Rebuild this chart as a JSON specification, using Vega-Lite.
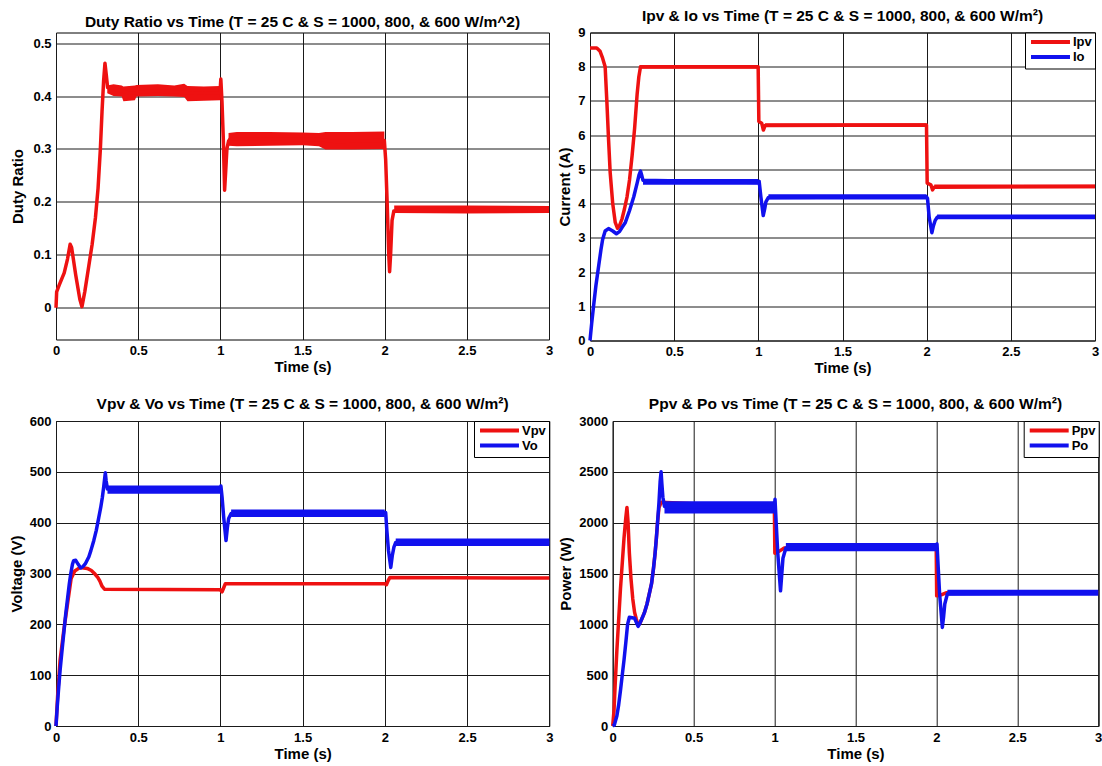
{
  "$schema": "https://vega.github.io/schema/vega-lite/v6.json",
  "padding": {"left": 8, "top": 7.5, "right": 0, "bottom": 0},
  "background": "white",
  "datasets": {
    "duty": [
      {"t":0,"v":0},{"t":0.004,"v":0.03},{"t":0.02,"v":0.043},{"t":0.05,"v":0.066},{"t":0.07,"v":0.092},{"t":0.086,"v":0.12},{"t":0.095,"v":0.114},{"t":0.12,"v":0.062},{"t":0.145,"v":0.016},{"t":0.158,"v":0.002},{"t":0.175,"v":0.03},{"t":0.2,"v":0.08},{"t":0.22,"v":0.12},{"t":0.24,"v":0.17},{"t":0.256,"v":0.226},{"t":0.27,"v":0.3},{"t":0.28,"v":0.37},{"t":0.29,"v":0.43},{"t":0.298,"v":0.462},{"t":0.306,"v":0.44},{"t":0.314,"v":0.416},{"t":0.4,"v":0.41},{"t":0.45,"v":0.405},{"t":0.6,"v":0.41},{"t":0.85,"v":0.405},{"t":0.998,"v":0.406},{"t":1.003,"v":0.432},{"t":1.01,"v":0.39},{"t":1.018,"v":0.32},{"t":1.026,"v":0.222},{"t":1.033,"v":0.26},{"t":1.04,"v":0.3},{"t":1.05,"v":0.315},{"t":1.06,"v":0.319},{"t":1.6,"v":0.318},{"t":1.7,"v":0.314},{"t":1.998,"v":0.316},{"t":2.006,"v":0.28},{"t":2.015,"v":0.2},{"t":2.025,"v":0.1},{"t":2.03,"v":0.068},{"t":2.036,"v":0.1},{"t":2.045,"v":0.165},{"t":2.056,"v":0.183},{"t":3,"v":0.186}
    ],
    "dutyBand": [
      {"g":1,"t":0.312,"lo":0.405,"hi":0.42},{"g":1,"t":0.35,"lo":0.4,"hi":0.422},{"g":1,"t":0.4,"lo":0.399,"hi":0.42},{"g":1,"t":0.41,"lo":0.39,"hi":0.418},{"g":1,"t":0.48,"lo":0.392,"hi":0.42},{"g":1,"t":0.49,"lo":0.399,"hi":0.421},{"g":1,"t":0.62,"lo":0.4,"hi":0.422},{"g":1,"t":0.72,"lo":0.399,"hi":0.42},{"g":1,"t":0.78,"lo":0.398,"hi":0.423},{"g":1,"t":0.8,"lo":0.39,"hi":0.419},{"g":1,"t":0.9,"lo":0.391,"hi":0.418},{"g":1,"t":0.998,"lo":0.392,"hi":0.419},
      {"g":2,"t":1.05,"lo":0.306,"hi":0.33},{"g":2,"t":1.1,"lo":0.305,"hi":0.332},{"g":2,"t":1.3,"lo":0.306,"hi":0.332},{"g":2,"t":1.5,"lo":0.307,"hi":0.331},{"g":2,"t":1.6,"lo":0.305,"hi":0.33},{"g":2,"t":1.64,"lo":0.299,"hi":0.332},{"g":2,"t":1.8,"lo":0.299,"hi":0.332},{"g":2,"t":1.998,"lo":0.3,"hi":0.333},
      {"g":3,"t":2.058,"lo":0.179,"hi":0.193},{"g":3,"t":2.5,"lo":0.178,"hi":0.193},{"g":3,"t":3,"lo":0.179,"hi":0.192}
    ],
    "cur": [
      {"s":"Ipv","t":0,"v":8.55},{"s":"Ipv","t":0.04,"v":8.55},{"s":"Ipv","t":0.06,"v":8.45},{"s":"Ipv","t":0.075,"v":8.25},{"s":"Ipv","t":0.09,"v":8.0},{"s":"Ipv","t":0.1,"v":7.0},{"s":"Ipv","t":0.11,"v":5.9},{"s":"Ipv","t":0.12,"v":4.9},{"s":"Ipv","t":0.135,"v":4.0},{"s":"Ipv","t":0.15,"v":3.45},{"s":"Ipv","t":0.163,"v":3.28},{"s":"Ipv","t":0.175,"v":3.35},{"s":"Ipv","t":0.19,"v":3.55},{"s":"Ipv","t":0.205,"v":3.85},{"s":"Ipv","t":0.22,"v":4.2},{"s":"Ipv","t":0.235,"v":4.7},{"s":"Ipv","t":0.25,"v":5.4},{"s":"Ipv","t":0.265,"v":6.2},{"s":"Ipv","t":0.28,"v":7.2},{"s":"Ipv","t":0.29,"v":7.7},{"s":"Ipv","t":0.3,"v":8.0},{"s":"Ipv","t":0.999,"v":8.0},{"s":"Ipv","t":1.003,"v":6.4},{"s":"Ipv","t":1.02,"v":6.35},{"s":"Ipv","t":1.03,"v":6.15},{"s":"Ipv","t":1.04,"v":6.28},{"s":"Ipv","t":1.999,"v":6.3},{"s":"Ipv","t":2.003,"v":4.6},{"s":"Ipv","t":2.025,"v":4.55},{"s":"Ipv","t":2.035,"v":4.4},{"s":"Ipv","t":2.045,"v":4.48},{"s":"Ipv","t":3,"v":4.5},
      {"s":"Io","t":0,"v":0},{"s":"Io","t":0.01,"v":0.5},{"s":"Io","t":0.021,"v":1.0},{"s":"Io","t":0.035,"v":1.6},{"s":"Io","t":0.052,"v":2.2},{"s":"Io","t":0.065,"v":2.65},{"s":"Io","t":0.075,"v":2.95},{"s":"Io","t":0.09,"v":3.2},{"s":"Io","t":0.11,"v":3.27},{"s":"Io","t":0.135,"v":3.2},{"s":"Io","t":0.157,"v":3.12},{"s":"Io","t":0.175,"v":3.18},{"s":"Io","t":0.19,"v":3.3},{"s":"Io","t":0.21,"v":3.45},{"s":"Io","t":0.235,"v":3.8},{"s":"Io","t":0.26,"v":4.2},{"s":"Io","t":0.28,"v":4.6},{"s":"Io","t":0.292,"v":4.85},{"s":"Io","t":0.3,"v":4.95},{"s":"Io","t":0.306,"v":4.85},{"s":"Io","t":0.315,"v":4.68},{"s":"Io","t":0.999,"v":4.62},{"s":"Io","t":1.005,"v":4.65},{"s":"Io","t":1.015,"v":4.2},{"s":"Io","t":1.029,"v":3.65},{"s":"Io","t":1.038,"v":3.85},{"s":"Io","t":1.045,"v":4.05},{"s":"Io","t":1.06,"v":4.18},{"s":"Io","t":1.999,"v":4.2},{"s":"Io","t":2.005,"v":4.15},{"s":"Io","t":2.015,"v":3.6},{"s":"Io","t":2.031,"v":3.15},{"s":"Io","t":2.04,"v":3.35},{"s":"Io","t":2.05,"v":3.5},{"s":"Io","t":2.062,"v":3.6},{"s":"Io","t":3,"v":3.61}
    ],
    "curBand": [
      {"s":"Ipv","g":1,"t":0.305,"lo":7.94,"hi":8.05},{"s":"Ipv","g":1,"t":0.999,"lo":7.94,"hi":8.05},
      {"s":"Ipv","g":2,"t":1.04,"lo":6.24,"hi":6.35},{"s":"Ipv","g":2,"t":1.999,"lo":6.24,"hi":6.35},
      {"s":"Ipv","g":3,"t":2.045,"lo":4.45,"hi":4.56},{"s":"Ipv","g":3,"t":3,"lo":4.45,"hi":4.56},
      {"s":"Io","g":4,"t":0.315,"lo":4.55,"hi":4.72},{"s":"Io","g":4,"t":0.999,"lo":4.55,"hi":4.72},
      {"s":"Io","g":5,"t":1.06,"lo":4.12,"hi":4.27},{"s":"Io","g":5,"t":1.999,"lo":4.12,"hi":4.27},
      {"s":"Io","g":6,"t":2.062,"lo":3.54,"hi":3.68},{"s":"Io","g":6,"t":3,"lo":3.54,"hi":3.68}
    ],
    "volt": [
      {"s":"Vpv","t":0,"v":0},{"s":"Vpv","t":0.01,"v":60},{"s":"Vpv","t":0.025,"v":130},{"s":"Vpv","t":0.048,"v":190},{"s":"Vpv","t":0.07,"v":240},{"s":"Vpv","t":0.092,"v":290},{"s":"Vpv","t":0.114,"v":305},{"s":"Vpv","t":0.147,"v":312},{"s":"Vpv","t":0.19,"v":310},{"s":"Vpv","t":0.215,"v":306},{"s":"Vpv","t":0.234,"v":300},{"s":"Vpv","t":0.255,"v":292},{"s":"Vpv","t":0.267,"v":285},{"s":"Vpv","t":0.28,"v":275},{"s":"Vpv","t":0.295,"v":269},{"s":"Vpv","t":0.999,"v":268},{"s":"Vpv","t":1.01,"v":264},{"s":"Vpv","t":1.02,"v":272},{"s":"Vpv","t":1.03,"v":280},{"s":"Vpv","t":1.999,"v":280},{"s":"Vpv","t":2.01,"v":278},{"s":"Vpv","t":2.02,"v":286},{"s":"Vpv","t":2.03,"v":292},{"s":"Vpv","t":3,"v":291},
      {"s":"Vo","t":0,"v":0},{"s":"Vo","t":0.008,"v":40},{"s":"Vo","t":0.015,"v":70},{"s":"Vo","t":0.025,"v":110},{"s":"Vo","t":0.037,"v":150},{"s":"Vo","t":0.048,"v":185},{"s":"Vo","t":0.059,"v":220},{"s":"Vo","t":0.07,"v":250},{"s":"Vo","t":0.081,"v":280},{"s":"Vo","t":0.09,"v":300},{"s":"Vo","t":0.1,"v":318},{"s":"Vo","t":0.107,"v":325},{"s":"Vo","t":0.12,"v":326},{"s":"Vo","t":0.135,"v":318},{"s":"Vo","t":0.15,"v":311},{"s":"Vo","t":0.165,"v":314},{"s":"Vo","t":0.18,"v":320},{"s":"Vo","t":0.2,"v":333},{"s":"Vo","t":0.212,"v":345},{"s":"Vo","t":0.23,"v":365},{"s":"Vo","t":0.245,"v":385},{"s":"Vo","t":0.26,"v":410},{"s":"Vo","t":0.272,"v":430},{"s":"Vo","t":0.282,"v":450},{"s":"Vo","t":0.29,"v":470},{"s":"Vo","t":0.297,"v":490},{"s":"Vo","t":0.3,"v":498},{"s":"Vo","t":0.305,"v":482},{"s":"Vo","t":0.313,"v":466},{"s":"Vo","t":0.999,"v":465},{"s":"Vo","t":1.003,"v":472},{"s":"Vo","t":1.01,"v":450},{"s":"Vo","t":1.02,"v":410},{"s":"Vo","t":1.034,"v":365},{"s":"Vo","t":1.042,"v":390},{"s":"Vo","t":1.05,"v":408},{"s":"Vo","t":1.065,"v":418},{"s":"Vo","t":1.999,"v":420},{"s":"Vo","t":2.005,"v":420},{"s":"Vo","t":2.012,"v":385},{"s":"Vo","t":2.022,"v":345},{"s":"Vo","t":2.036,"v":312},{"s":"Vo","t":2.045,"v":335},{"s":"Vo","t":2.055,"v":352},{"s":"Vo","t":2.066,"v":361},{"s":"Vo","t":3,"v":361}
    ],
    "voltBand": [
      {"s":"Vo","g":1,"t":0.313,"lo":457,"hi":473},{"s":"Vo","g":1,"t":0.999,"lo":457,"hi":473},
      {"s":"Vo","g":2,"t":1.065,"lo":411,"hi":426},{"s":"Vo","g":2,"t":1.999,"lo":411,"hi":426},
      {"s":"Vo","g":3,"t":2.066,"lo":354,"hi":369},{"s":"Vo","g":3,"t":3,"lo":354,"hi":369}
    ],
    "pow": [
      {"s":"Ppv","t":0,"v":0},{"s":"Ppv","t":0.008,"v":150},{"s":"Ppv","t":0.015,"v":400},{"s":"Ppv","t":0.026,"v":750},{"s":"Ppv","t":0.037,"v":1050},{"s":"Ppv","t":0.048,"v":1350},{"s":"Ppv","t":0.059,"v":1600},{"s":"Ppv","t":0.07,"v":1850},{"s":"Ppv","t":0.081,"v":2050},{"s":"Ppv","t":0.088,"v":2150},{"s":"Ppv","t":0.095,"v":2000},{"s":"Ppv","t":0.103,"v":1700},{"s":"Ppv","t":0.113,"v":1450},{"s":"Ppv","t":0.124,"v":1250},{"s":"Ppv","t":0.135,"v":1120},{"s":"Ppv","t":0.146,"v":1050},{"s":"Ppv","t":0.157,"v":990},{"s":"Ppv","t":0.168,"v":1010},{"s":"Ppv","t":0.179,"v":1050},{"s":"Ppv","t":0.195,"v":1110},{"s":"Ppv","t":0.212,"v":1200},{"s":"Ppv","t":0.226,"v":1300},{"s":"Ppv","t":0.24,"v":1400},{"s":"Ppv","t":0.252,"v":1550},{"s":"Ppv","t":0.262,"v":1700},{"s":"Ppv","t":0.27,"v":1850},{"s":"Ppv","t":0.277,"v":2000},{"s":"Ppv","t":0.286,"v":2150},{"s":"Ppv","t":0.3,"v":2200},{"s":"Ppv","t":0.999,"v":2150},{"s":"Ppv","t":1.002,"v":1700},{"s":"Ppv","t":1.03,"v":1720},{"s":"Ppv","t":1.06,"v":1750},{"s":"Ppv","t":1.999,"v":1760},{"s":"Ppv","t":2.002,"v":1280},{"s":"Ppv","t":2.03,"v":1290},{"s":"Ppv","t":2.06,"v":1310},{"s":"Ppv","t":3,"v":1310},
      {"s":"Po","t":0,"v":0},{"s":"Po","t":0.01,"v":10},{"s":"Po","t":0.026,"v":100},{"s":"Po","t":0.037,"v":210},{"s":"Po","t":0.048,"v":350},{"s":"Po","t":0.059,"v":500},{"s":"Po","t":0.07,"v":650},{"s":"Po","t":0.081,"v":820},{"s":"Po","t":0.092,"v":1000},{"s":"Po","t":0.103,"v":1070},{"s":"Po","t":0.12,"v":1065},{"s":"Po","t":0.135,"v":1060},{"s":"Po","t":0.146,"v":1020},{"s":"Po","t":0.157,"v":980},{"s":"Po","t":0.168,"v":1010},{"s":"Po","t":0.179,"v":1050},{"s":"Po","t":0.195,"v":1110},{"s":"Po","t":0.212,"v":1200},{"s":"Po","t":0.226,"v":1300},{"s":"Po","t":0.24,"v":1400},{"s":"Po","t":0.252,"v":1550},{"s":"Po","t":0.262,"v":1700},{"s":"Po","t":0.27,"v":1850},{"s":"Po","t":0.277,"v":2000},{"s":"Po","t":0.286,"v":2200},{"s":"Po","t":0.293,"v":2400},{"s":"Po","t":0.299,"v":2500},{"s":"Po","t":0.304,"v":2380},{"s":"Po","t":0.31,"v":2250},{"s":"Po","t":0.32,"v":2160},{"s":"Po","t":0.999,"v":2150},{"s":"Po","t":1.003,"v":2230},{"s":"Po","t":1.01,"v":2000},{"s":"Po","t":1.02,"v":1700},{"s":"Po","t":1.037,"v":1330},{"s":"Po","t":1.045,"v":1500},{"s":"Po","t":1.052,"v":1650},{"s":"Po","t":1.07,"v":1750},{"s":"Po","t":1.999,"v":1760},{"s":"Po","t":2.004,"v":1790},{"s":"Po","t":2.01,"v":1600},{"s":"Po","t":2.02,"v":1300},{"s":"Po","t":2.037,"v":970},{"s":"Po","t":2.045,"v":1080},{"s":"Po","t":2.052,"v":1200},{"s":"Po","t":2.068,"v":1300},{"s":"Po","t":3,"v":1310}
    ],
    "powBand": [
      {"s":"Po","g":1,"t":0.32,"lo":2090,"hi":2210},{"s":"Po","g":1,"t":0.999,"lo":2090,"hi":2210},
      {"s":"Po","g":2,"t":1.07,"lo":1720,"hi":1800},{"s":"Po","g":2,"t":1.999,"lo":1720,"hi":1800},
      {"s":"Po","g":3,"t":2.068,"lo":1280,"hi":1340},{"s":"Po","g":3,"t":3,"lo":1280,"hi":1340}
    ]
  },
  "resolve": {"scale": {"stroke": "independent"}, "legend": {"stroke": "independent"}},
  "vconcat": [
    {
      "bounds": "flush",
      "spacing": 41,
      "resolve": {"scale": {"stroke": "independent"}, "legend": {"stroke": "independent"}},
      "hconcat": [
        {
          "width": 493,
          "height": 307,
          "title": "Duty Ratio vs Time (T = 25 C & S = 1000, 800, & 600 W/m^2)",
          "encoding": {
            "x": {"field": "t", "type": "quantitative", "scale": {"domain": [0, 3], "nice": false, "zero": false}, "axis": {"values": [0, 0.5, 1, 1.5, 2, 2.5, 3], "format": ".6~g", "title": "Time (s)"}}
          },
          "layer": [
            {
              "data": {"name": "dutyBand"},
              "mark": {"type": "area", "fill": "#ee1111", "opacity": 1},
              "encoding": {
                "y": {"field": "lo", "type": "quantitative", "scale": {"domain": [-0.06, 0.52], "nice": false, "zero": false}, "axis": {"values": [0, 0.1, 0.2, 0.3, 0.4, 0.5], "format": ".6~g", "title": "Duty Ratio", "titlePadding": 7}},
                "y2": {"field": "hi"},
                "detail": {"field": "g"}
              }
            },
            {
              "data": {"name": "duty"},
              "mark": {"type": "line", "stroke": "#ee1111", "strokeWidth": 3.5, "strokeJoin": "round"},
              "encoding": {
                "y": {"field": "v", "type": "quantitative", "scale": {"domain": [-0.06, 0.52], "nice": false, "zero": false}, "axis": {"values": [0, 0.1, 0.2, 0.3, 0.4, 0.5], "format": ".6~g", "title": "Duty Ratio", "titlePadding": 7}}
              }
            }
          ]
        },
        {
          "width": 505,
          "height": 308,
          "title": "Ipv & Io vs Time (T = 25 C & S = 1000, 800, & 600 W/m²)",
          "encoding": {
            "x": {"field": "t", "type": "quantitative", "scale": {"domain": [0, 3], "nice": false, "zero": false}, "axis": {"values": [0, 0.5, 1, 1.5, 2, 2.5, 3], "format": ".6~g", "title": "Time (s)"}}
          },
          "layer": [
            {
              "data": {"name": "curBand"},
              "transform": [{"filter": "datum.s === 'Ipv'"}],
              "mark": {"type": "area", "fill": "#ee1111", "opacity": 1},
              "encoding": {
                "y": {"field": "lo", "type": "quantitative", "scale": {"domain": [0, 9], "nice": false}, "axis": {"values": [0, 1, 2, 3, 4, 5, 6, 7, 8, 9], "format": ".6~g", "title": "Current (A)"}},
                "y2": {"field": "hi"},
                "detail": {"field": "g"}
              }
            },
            {
              "data": {"name": "cur"},
              "transform": [{"filter": "datum.s === 'Ipv'"}],
              "mark": {"type": "line", "strokeWidth": 3.5, "strokeJoin": "round"},
              "encoding": {
                "y": {"field": "v", "type": "quantitative", "scale": {"domain": [0, 9], "nice": false}, "axis": {"values": [0, 1, 2, 3, 4, 5, 6, 7, 8, 9], "format": ".6~g", "title": "Current (A)"}},
                "stroke": {"field": "s", "type": "nominal", "scale": {"domain": ["Ipv", "Io"], "range": ["#ee1111", "#1111ee"]}, "legend": {"title": null, "orient": "top-right", "offset": 0}}
              }
            },
            {
              "data": {"name": "curBand"},
              "transform": [{"filter": "datum.s === 'Io'"}],
              "mark": {"type": "area", "fill": "#1111ee", "opacity": 1},
              "encoding": {
                "y": {"field": "lo", "type": "quantitative", "scale": {"domain": [0, 9], "nice": false}, "axis": {"values": [0, 1, 2, 3, 4, 5, 6, 7, 8, 9], "format": ".6~g", "title": "Current (A)"}},
                "y2": {"field": "hi"},
                "detail": {"field": "g"}
              }
            },
            {
              "data": {"name": "cur"},
              "transform": [{"filter": "datum.s === 'Io'"}],
              "mark": {"type": "line", "strokeWidth": 3.5, "strokeJoin": "round"},
              "encoding": {
                "y": {"field": "v", "type": "quantitative", "scale": {"domain": [0, 9], "nice": false}, "axis": {"values": [0, 1, 2, 3, 4, 5, 6, 7, 8, 9], "format": ".6~g", "title": "Current (A)"}},
                "stroke": {"field": "s", "type": "nominal", "scale": {"domain": ["Ipv", "Io"], "range": ["#ee1111", "#1111ee"]}, "legend": {"title": null, "orient": "top-right", "offset": 0}}
              }
            }
          ]
        }
      ]
    },
    {
      "bounds": "flush",
      "spacing": 62.7,
      "resolve": {"scale": {"stroke": "independent"}, "legend": {"stroke": "independent"}},
      "hconcat": [
        {
          "width": 493.3,
          "height": 305,
          "title": "Vpv & Vo vs Time (T = 25 C & S = 1000, 800, & 600 W/m²)",
          "encoding": {
            "x": {"field": "t", "type": "quantitative", "scale": {"domain": [0, 3], "nice": false, "zero": false}, "axis": {"values": [0, 0.5, 1, 1.5, 2, 2.5, 3], "format": ".6~g", "title": "Time (s)"}}
          },
          "layer": [
            {
              "data": {"name": "volt"},
              "transform": [{"filter": "datum.s === 'Vpv'"}],
              "mark": {"type": "line", "strokeWidth": 3.5, "strokeJoin": "round"},
              "encoding": {
                "y": {"field": "v", "type": "quantitative", "scale": {"domain": [0, 600], "nice": false}, "axis": {"values": [0, 100, 200, 300, 400, 500, 600], "format": ".6~g", "title": "Voltage (V)"}},
                "stroke": {"field": "s", "type": "nominal", "scale": {"domain": ["Vpv", "Vo"], "range": ["#ee1111", "#1111ee"]}, "legend": {"title": null, "orient": "top-right", "offset": 0}}
              }
            },
            {
              "data": {"name": "voltBand"},
              "mark": {"type": "area", "fill": "#1111ee", "opacity": 1},
              "encoding": {
                "y": {"field": "lo", "type": "quantitative", "scale": {"domain": [0, 600], "nice": false}, "axis": {"values": [0, 100, 200, 300, 400, 500, 600], "format": ".6~g", "title": "Voltage (V)"}},
                "y2": {"field": "hi"},
                "detail": {"field": "g"}
              }
            },
            {
              "data": {"name": "volt"},
              "transform": [{"filter": "datum.s === 'Vo'"}],
              "mark": {"type": "line", "strokeWidth": 3.5, "strokeJoin": "round"},
              "encoding": {
                "y": {"field": "v", "type": "quantitative", "scale": {"domain": [0, 600], "nice": false}, "axis": {"values": [0, 100, 200, 300, 400, 500, 600], "format": ".6~g", "title": "Voltage (V)"}},
                "stroke": {"field": "s", "type": "nominal", "scale": {"domain": ["Vpv", "Vo"], "range": ["#ee1111", "#1111ee"]}, "legend": {"title": null, "orient": "top-right", "offset": 0}}
              }
            }
          ]
        },
        {
          "width": 485.5,
          "height": 305,
          "title": "Ppv & Po vs Time (T = 25 C & S = 1000, 800, & 600 W/m²)",
          "encoding": {
            "x": {"field": "t", "type": "quantitative", "scale": {"domain": [0, 3], "nice": false, "zero": false}, "axis": {"values": [0, 0.5, 1, 1.5, 2, 2.5, 3], "format": ".6~g", "title": "Time (s)"}}
          },
          "layer": [
            {
              "data": {"name": "pow"},
              "transform": [{"filter": "datum.s === 'Ppv'"}],
              "mark": {"type": "line", "strokeWidth": 3.5, "strokeJoin": "round"},
              "encoding": {
                "y": {"field": "v", "type": "quantitative", "scale": {"domain": [0, 3000], "nice": false}, "axis": {"values": [0, 500, 1000, 1500, 2000, 2500, 3000], "format": ".6~g", "title": "Power (W)"}},
                "stroke": {"field": "s", "type": "nominal", "scale": {"domain": ["Ppv", "Po"], "range": ["#ee1111", "#1111ee"]}, "legend": {"title": null, "orient": "top-right", "offset": 0}}
              }
            },
            {
              "data": {"name": "powBand"},
              "mark": {"type": "area", "fill": "#1111ee", "opacity": 1},
              "encoding": {
                "y": {"field": "lo", "type": "quantitative", "scale": {"domain": [0, 3000], "nice": false}, "axis": {"values": [0, 500, 1000, 1500, 2000, 2500, 3000], "format": ".6~g", "title": "Power (W)"}},
                "y2": {"field": "hi"},
                "detail": {"field": "g"}
              }
            },
            {
              "data": {"name": "pow"},
              "transform": [{"filter": "datum.s === 'Po'"}],
              "mark": {"type": "line", "strokeWidth": 3.5, "strokeJoin": "round"},
              "encoding": {
                "y": {"field": "v", "type": "quantitative", "scale": {"domain": [0, 3000], "nice": false}, "axis": {"values": [0, 500, 1000, 1500, 2000, 2500, 3000], "format": ".6~g", "title": "Power (W)"}},
                "stroke": {"field": "s", "type": "nominal", "scale": {"domain": ["Ppv", "Po"], "range": ["#ee1111", "#1111ee"]}, "legend": {"title": null, "orient": "top-right", "offset": 0}}
              }
            }
          ]
        }
      ]
    }
  ],
  "spacing": 19.5,
  "config": {
    "font": "Liberation Sans",
    "view": {"stroke": "#000000", "strokeWidth": 1},
    "axis": {
      "grid": true,
      "gridColor": "#1a1a1a",
      "gridOpacity": 1,
      "gridWidth": 1,
      "domain": false,
      "ticks": false,
      "labelFont": "Liberation Sans",
      "labelFontSize": 13,
      "labelFontWeight": "bold",
      "labelColor": "#000000",
      "labelPadding": 5,
      "labelFlush": false,
      "labelOverlap": false,
      "titleFont": "Liberation Sans",
      "titleFontSize": 15,
      "titleFontWeight": "bold",
      "titleColor": "#000000"
    },
    "axisX": {"titlePadding": 2},
    "axisY": {"titlePadding": 5},
    "title": {
      "font": "Liberation Sans",
      "fontSize": 15.5,
      "fontWeight": "bold",
      "color": "#000000",
      "baseline": "alphabetic",
      "offset": 2.5,
      "anchor": "middle",
      "frame": "group"
    },
    "legend": {
      "padding": 3,
      "strokeColor": "#000000",
      "fillColor": "#ffffff",
      "symbolType": "M-4.33,0H4.33",
      "symbolSize": 81,
      "symbolStrokeWidth": 4,
      "symbolOffset": 16,
      "labelOffset": 16,
      "rowPadding": -2,
      "labelFont": "Liberation Sans",
      "labelFontSize": 13,
      "labelFontWeight": "bold",
      "labelColor": "#000000"
    }
  }
}
